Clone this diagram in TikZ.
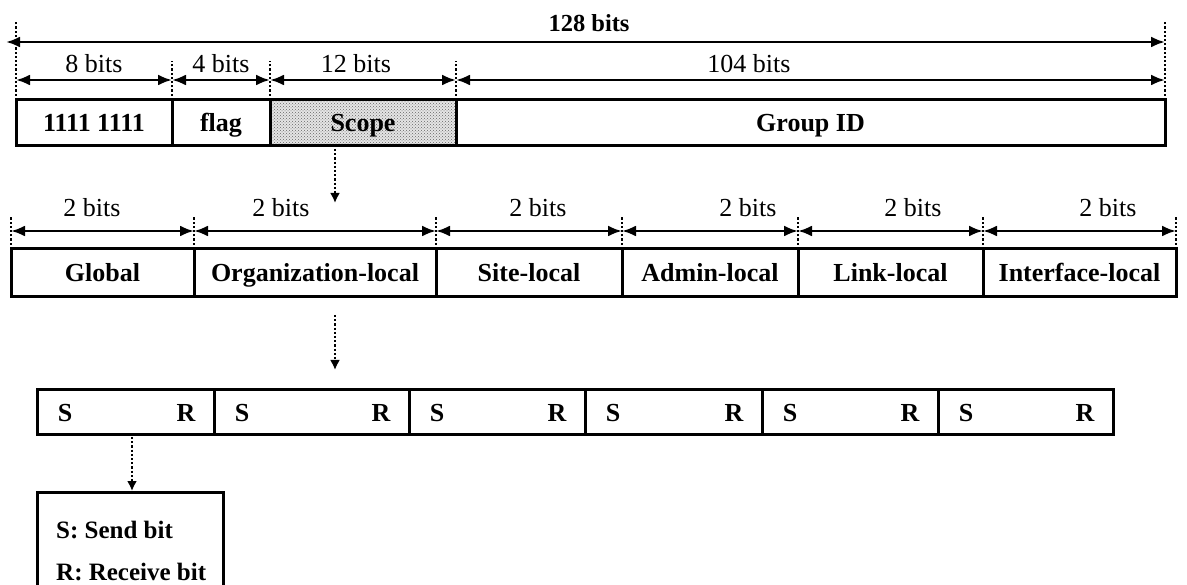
\documentclass[tikz,border=0pt]{standalone}
\usepackage{fontspec}
\setmainfont{Liberation Serif}
\usetikzlibrary{arrows.meta,patterns,calc}
\begin{document}
\begin{tikzpicture}[x=1pt,y=-1pt,
  box/.style={draw, line width=3pt, inner sep=0pt, outer sep=0pt,
    font=\bfseries\fontsize{26}{30}\selectfont, text height=17.5pt, text depth=0pt},
  dimtext/.style={anchor=base, inner sep=0pt, font=\fontsize{26}{30}\selectfont},
  dimbold/.style={anchor=base, inner sep=0pt, font=\bfseries\fontsize{24.5}{30}\selectfont},
  dim/.style={line width=2.6pt, {Latex[length=14pt,width=11pt]}-{Latex[length=14pt,width=11pt]}},
  tick/.style={line width=2.4pt, dash pattern=on 2.2pt off 2pt},
  flow/.style={line width=2.4pt, dash pattern=on 2.2pt off 2pt, -{Latex[length=10pt,width=10pt]}},
  srtext/.style={font=\bfseries\fontsize{26}{30}\selectfont, inner sep=0pt, text height=18pt, text depth=0pt},
  legtext/.style={anchor=base west, inner sep=0pt, font=\bfseries\fontsize{25}{30}\selectfont}
]
\useasboundingbox (0,0) rectangle (1187,585);
\clip (0,0) rectangle (1187,585);

% ---------- Row 1: address format ----------
\node[box, minimum width=156pt, minimum height=46pt] (b1) at (94,123) {1111 1111};
\node[box, minimum width=98pt, minimum height=46pt] (b2) at (221,123) {flag};
\node[box, minimum width=186pt, minimum height=46pt,
      preaction={fill=black!10}, pattern=crosshatch dots, pattern color=black!60] (b3) at (363,123) {Scope};
\node[box, minimum width=709pt, minimum height=46pt] (b4) at (810.5,123) {Group ID};

% ticks row 1
\draw[tick] (b1.north west) -- ++(0,-78);
\draw[tick] (b4.north east) -- ++(0,-78);
\draw[tick] (b2.north west) -- ++(0,-39);
\draw[tick] (b3.north west) -- ++(0,-39);
\draw[tick] (b4.north west) -- ++(0,-39);

% 128 bits
\coordinate (w0) at (6,42);
\coordinate (w1) at (1165,42);
\draw[dim] (w0) -- (w1);
\node[dimbold] (l128) at (589,32) {128 bits};

% field widths
\coordinate (d0) at (16,80);
\coordinate (d1) at (172,80);
\coordinate (d2) at (270,80);
\coordinate (d3) at (456,80);
\coordinate (d4) at (1165,80);
\draw[dim] (d0) -- (d1);
\draw[dim] (d1) -- (d2);
\draw[dim] (d2) -- (d3);
\draw[dim] (d3) -- (d4);
\node[dimtext] (l8) at (94,73) {8 bits};
\node[dimtext] (l4) at (221,73) {4 bits};
\node[dimtext] (l12) at (356,73) {12 bits};
\node[dimtext] (l104) at (749,73) {104 bits};

% ---------- arrow to row 2 ----------
\coordinate (f1a) at (335,149);
\coordinate (f1b) at (335,203);
\draw[flow] (f1a) -- (f1b);

% ---------- Row 2: scopes ----------
\node[box, minimum width=183pt, minimum height=48pt] (g1) at (102.5,273) {Global};
\node[box, minimum width=242pt, minimum height=48pt] (g2) at (315,273) {Organization-local};
\node[box, minimum width=186pt, minimum height=48pt] (g3) at (529,273) {Site-local};
\node[box, minimum width=176pt, minimum height=48pt] (g4) at (710,273) {Admin-local};
\node[box, minimum width=185pt, minimum height=48pt] (g5) at (890.5,273) {Link-local};
\node[box, minimum width=193pt, minimum height=48pt] (g6) at (1079.5,273) {Interface-local};

\foreach \n in {g1,g2,g3,g4,g5,g6}{\draw[tick] (\n.north west) -- ++(0,-32);}
\draw[tick] (g6.north east) -- ++(0,-32);

\coordinate (e0) at (11,231);
\coordinate (e1) at (194,231);
\coordinate (e2) at (436,231);
\coordinate (e3) at (622,231);
\coordinate (e4) at (798,231);
\coordinate (e5) at (983,231);
\coordinate (e6) at (1176,231);
\draw[dim] (e0) -- (e1);
\draw[dim] (e1) -- (e2);
\draw[dim] (e2) -- (e3);
\draw[dim] (e3) -- (e4);
\draw[dim] (e4) -- (e5);
\draw[dim] (e5) -- (e6);
\node[dimtext] (m1) at (92,217) {2 bits};
\node[dimtext] (m2) at (281,217) {2 bits};
\node[dimtext] (m3) at (538,217) {2 bits};
\node[dimtext] (m4) at (748,217) {2 bits};
\node[dimtext] (m5) at (913,217) {2 bits};
\node[dimtext] (m6) at (1108,217) {2 bits};

% ---------- arrow to row 3 ----------
\coordinate (f2a) at (335,315);
\coordinate (f2b) at (335,370);
\draw[flow] (f2a) -- (f2b);

% ---------- Row 3: S/R bits ----------
\node[box, minimum width=177pt, minimum height=45pt] (s1) at (125.5,412.5) {};
\node[box, minimum width=195pt, minimum height=45pt] (s2) at (311.5,412.5) {};
\node[box, minimum width=176pt, minimum height=45pt] (s3) at (497,412.5) {};
\node[box, minimum width=177pt, minimum height=45pt] (s4) at (673.5,412.5) {};
\node[box, minimum width=176pt, minimum height=45pt] (s5) at (850,412.5) {};
\node[box, minimum width=175pt, minimum height=45pt] (s6) at (1025.5,412.5) {};
\foreach \n in {s1,s2,s3,s4,s5,s6}{
  \node[srtext] (\n S) at ($(\n.west)+(28,0)$) {S};
  \node[srtext] (\n R) at ($(\n.east)+(-28,0)$) {R};
}

% ---------- legend ----------
\node[draw, line width=3pt, inner sep=0pt, outer sep=0pt, anchor=north west,
      minimum width=186pt, minimum height=115pt] (leg) at (37,492) {};
\node[legtext] (legS) at (56,538) {S: Send bit};
\node[legtext] (legR) at (56,580) {R: Receive bit};

\coordinate (f3a) at (132,437);
\coordinate (f3b) at (132,491);
\draw[flow] (f3a) -- (f3b);
\end{tikzpicture}
\end{document}
